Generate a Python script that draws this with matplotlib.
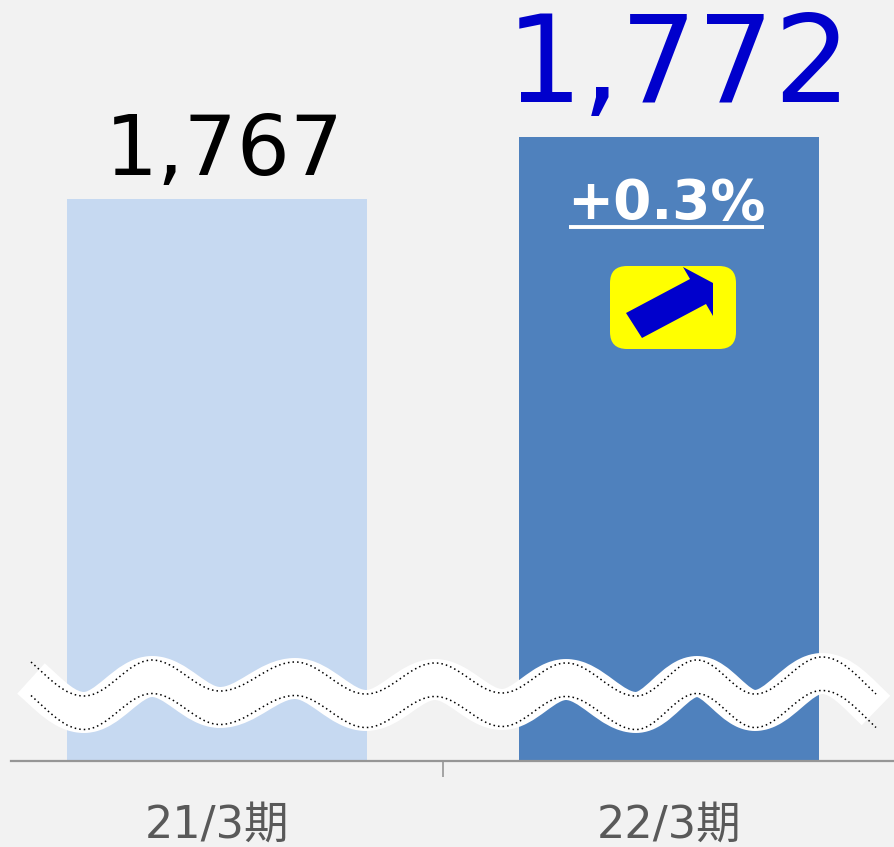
import matplotlib
matplotlib.use('Agg')
import matplotlib.pyplot as plt
from matplotlib.patches import FancyBboxPatch, PathPatch, Polygon
from matplotlib.path import Path

plt.rcParams['font.family'] = ['DejaVu Sans', 'Noto Sans CJK JP']

periods = ['21/3期', '22/3期']
sales = [1767, 1772]
bar_colors = ['#C6D9F1', '#4F81BD']
label_colors = ['black', '#0000CC']
label_sizes = [60, 87]
change_text = '+0.3%'

W, H = 894, 847
BG = '#F2F2F2'

fig = plt.figure(figsize=(W / 100, H / 100), dpi=100, facecolor=BG)

# chart axes, spine sits at pixel row 760.5
ax = fig.add_axes([11 / W, 1 - 760.5 / H, 1 - 11 / W, 760.5 / H], facecolor=BG)
px_per_unit = 62 / (sales[1] - sales[0])
ax.set_ylim(sales[1] - (760.5 - 137) / px_per_unit, sales[1] + 137 / px_per_unit)
ax.set_xlim((11 - 217) / 452, (894 - 217) / 452)

ax.bar(range(len(sales)), sales, width=300 / 452, color=bar_colors, zorder=2)

for s in ['top', 'left', 'right']:
    ax.spines[s].set_visible(False)
ax.spines['bottom'].set_color('#969696')
ax.spines['bottom'].set_linewidth(1.6)
ax.set_yticks([])
ax.set_xticks(range(len(periods)))
ax.set_xticklabels(periods, fontsize=32, color='#595959')
ax.tick_params(axis='x', which='major', length=0, pad=31)
ax.set_xticks([0.5], minor=True)
ax.tick_params(axis='x', which='minor', length=11.5, width=1.2, color='#969696')

for i, v in enumerate(sales):
    ax.annotate(f'{v:,}', (i, v), xytext=(5, 5) if i == 0 else (7, 7.5), textcoords='offset points',
                ha='center', va='bottom', fontsize=label_sizes[i], color=label_colors[i])

# overlay in pixel coordinates for the callout and the axis break
ov = fig.add_axes([0, 0, 1, 1])
ov.set_xlim(0, W)
ov.set_ylim(H, 0)
ov.axis('off')
ov.patch.set_alpha(0)

ov.text(666, 219, change_text, ha='center', va='baseline', fontsize=39.5,
        fontweight='bold', color='white')
ov.plot([569, 764], [227.5, 227.5], color='white', lw=2.8, solid_capstyle='butt')

ov.add_patch(FancyBboxPatch((622, 278), 102, 59, boxstyle='round,pad=12,rounding_size=17',
                            fc='#FFFF00', ec='none'))
ov.add_patch(Polygon([(626, 313), (642, 338), (706, 304), (713, 316), (713, 283),
                      (683, 267), (690, 279)], closed=True, fc='#0000CC', ec='none'))


def wave_path(shift):
    knots = [(31, 662), (84, 696), (152, 660), (220, 691), (295, 662), (366, 694), (435, 663),
             (502, 693), (566, 663), (636, 696), (697, 660), (755, 694), (822, 657), (876, 694)]
    verts = [(knots[0][0], knots[0][1] + shift)]
    codes = [Path.MOVETO]
    for i in range(len(knots) - 1):
        x0, y0 = knots[i]
        x1, y1 = knots[i + 1]
        dx = x1 - x0
        c0y = y0 + (y1 - y0) * 0.5 if i == 0 else y0
        c1y = y1 - (y1 - y0) * 0.5 if i == len(knots) - 2 else y1
        verts += [(x0 + dx * 0.36, c0y + shift), (x1 - dx * 0.36, c1y + shift), (x1, y1 + shift)]
        codes += [Path.CURVE4] * 3
    return Path(verts, codes)


ov.add_patch(PathPatch(wave_path(16.5), fc='none', ec='white', lw=29.5, capstyle='butt', joinstyle='round'))
for shift in [0, 33.5]:
    ov.add_patch(PathPatch(wave_path(shift), fc='none', ec='black', lw=1.1,
                           linestyle=(0, (1, 2)), capstyle='butt'))

fig.savefig('out.png', dpi=100, facecolor=BG)
